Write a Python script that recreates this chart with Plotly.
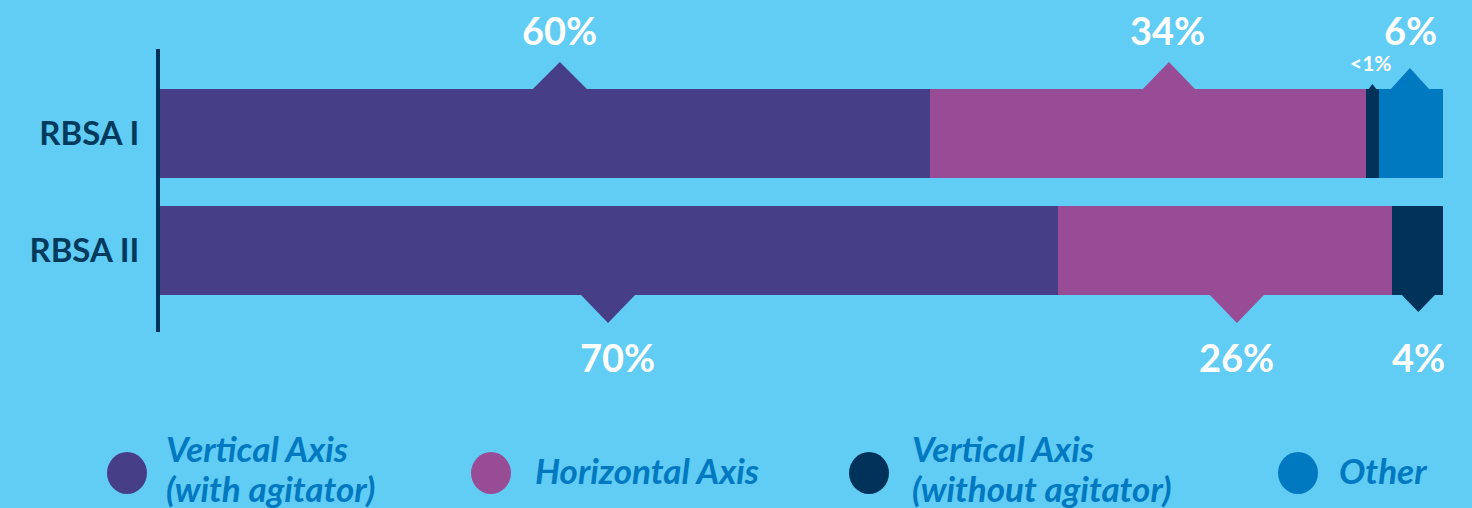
import plotly.graph_objects as go

# ---- data ----
categories = ["RBSA I", "RBSA II"]
series_names = ["Vertical Axis (with agitator)", "Horizontal Axis",
                "Vertical Axis (without agitator)", "Other"]
legend_lines = [["Vertical Axis", "(with agitator)"], ["Horizontal Axis"],
                ["Vertical Axis", "(without agitator)"], ["Other"]]
vertical_with = [60, 70]
horizontal = [34, 26]
vertical_without = [1, 4]
other = [5, 0]
value_labels = [["60%", "34%", "<1%", "6%"], ["70%", "26%", "4%", ""]]

colors = ["#463f88", "#984c96", "#00325a", "#0079c1"]
series = [vertical_with, horizontal, vertical_without, other]

W, H = 1472, 508
ML, MR, MT, MB = 160, 29, 49, 176
BAR_W = 0.76
FONT = "Lato"

fig = go.Figure()
for name, vals, col in zip(series_names, series, colors):
    fig.add_trace(go.Bar(y=categories, x=vals, orientation="h", name=name,
                         marker=dict(color=col, line=dict(width=0)),
                         width=BAR_W, hoverinfo="x+name", showlegend=False))

# label / pointer styling per (row, segment):
# (label xshift, pointer dx, half width, height, font size, label yshift)
style = {
    (0, 0): (15, 15, 28, 27, 38, 59),
    (0, 1): (20, 21, 27, 27, 38, 59),
    (0, 2): (-1, 0, 4.5, 5, 21, 27),
    (0, 3): (0, -1, 20, 21, 38, 59),
    (1, 0): (8, -1, 28, 28, 38, -62),
    (1, 1): (12, 12, 28, 28, 38, -62),
    (1, 2): (1, 1, 17.5, 17, 38, -62),
}

shapes = []
annotations = []
for r in range(len(categories)):
    cum = 0
    for s, vals in enumerate(series):
        v = vals[r]
        mid = cum + v / 2
        cum += v
        if (r, s) not in style or v == 0:
            continue
        lx, pdx, hw, hh, fs, ly = style[(r, s)]
        top = r == 0
        edge = r - BAR_W / 2 if top else r + BAR_W / 2
        sign = 1 if top else -1
        path = (f"M {pdx - hw},{-sign * 1} L {pdx},{sign * hh} "
                f"L {pdx + hw},{-sign * 1} Z")
        shapes.append(dict(type="path", xref="x", yref="y",
                           xsizemode="pixel", ysizemode="pixel",
                           xanchor=mid, yanchor=edge, path=path,
                           fillcolor=colors[s], line=dict(width=0),
                           layer="below"))
        annotations.append(dict(x=mid, y=edge, xref="x", yref="y",
                                text=f"<b>{value_labels[r][s]}</b>",
                                showarrow=False, xshift=lx, yshift=ly,
                                xanchor="center", yanchor="middle",
                                font=dict(family=FONT, size=fs, color="white")))

# ---- legend (custom) ----
PW = W - ML - MR
PH = H - MT - MB
def px2paper(px, py):
    return (px - ML) / PW, (H - MB - py) / PH

legend_dot_x = [127, 491, 869, 1298]
legend_text_x = [164, 533, 910, 1337]
legend_y = 473
LINE_GAP = 40
for i in range(4):
    cx, cy = px2paper(legend_dot_x[i], legend_y)
    shapes.append(dict(type="circle", xref="paper", yref="paper",
                       xsizemode="pixel", ysizemode="pixel",
                       xanchor=cx, yanchor=cy, x0=-20, x1=20, y0=-21, y1=21,
                       fillcolor=colors[i], line=dict(width=0)))
    lines = legend_lines[i]
    n = len(lines)
    for j, line in enumerate(lines):
        py = legend_y - 3 + (j - (n - 1) / 2) * LINE_GAP
        if n > 1:
            py -= 2
        tx, ty = px2paper(legend_text_x[i], py)
        annotations.append(dict(x=tx, y=ty, xref="paper", yref="paper",
                                text=f"<b><i>{line}</i></b>",
                                showarrow=False, xanchor="left", yanchor="middle",
                                align="left",
                                font=dict(family=FONT, size=35, color="#0079c1")))

fig.update_layout(
    width=W, height=H,
    margin=dict(l=ML, r=MR, t=MT, b=MB),
    barmode="stack",
    paper_bgcolor="#61ccf4", plot_bgcolor="rgba(0,0,0,0)",
    xaxis=dict(range=[0, 100], visible=False, fixedrange=True),
    yaxis=dict(type="category", categoryorder="array", categoryarray=categories,
               range=[1 + 0.697, -0.722], showgrid=False, zeroline=False,
               showline=True, linecolor="#00325a", linewidth=4,
               ticks="", ticklabelstandoff=10,
               tickfont=dict(family=FONT, size=33, color="#003a5c", weight="bold")),
    shapes=shapes, annotations=annotations,
    showlegend=False,
)

fig.write_html("out.html", config={"displayModeBar": False},
               post_script="document.body.style.margin='0';")
